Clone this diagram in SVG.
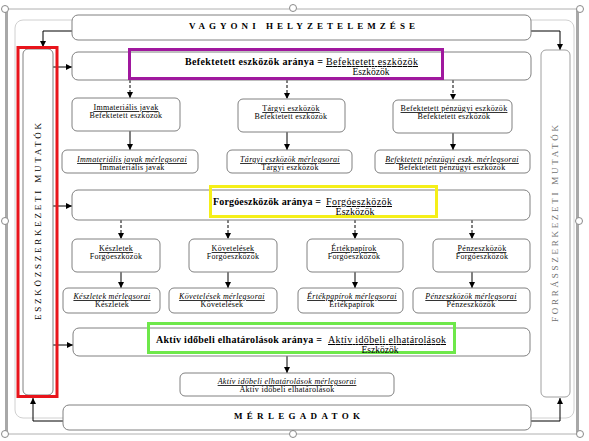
<svg xmlns="http://www.w3.org/2000/svg" width="589" height="441" viewBox="0 0 589 441">
<defs>
<marker id="ah" markerWidth="6" markerHeight="6" refX="6" refY="3" orient="auto" markerUnits="userSpaceOnUse"><path d="M0,0 L6,3 L0,6 z" fill="#000"/></marker>
<style>
.bx{fill:#fff;stroke:#808080;stroke-width:1}
.t{font-family:"Liberation Serif","Times New Roman",serif;fill:#000}
.s{font-size:8px;text-anchor:middle;letter-spacing:0.3px}
.u{text-decoration:underline}
.i{font-style:italic}
.b{font-weight:bold}
.r{font-size:10px}
.c{fill:none;stroke:#000;stroke-width:1}
.d{fill:none;stroke:#000;stroke-width:1;stroke-dasharray:3,2}
.h{fill:#fff;stroke:#8a8a8a;stroke-width:1}
</style>
</defs>
<rect width="589" height="441" fill="#fff"/>
<g id="frame">
<line x1="5" y1="9" x2="580" y2="9" stroke="#b0b0b0" stroke-width="1"/>
<line x1="5" y1="434" x2="580" y2="434" stroke="#b0b0b0" stroke-width="1"/>
<rect x="5" y="9" width="3" height="425" fill="#a8a8a8"/>
<rect x="576" y="9" width="3" height="425" fill="#a8a8a8"/>
<rect x="15" y="20" width="559" height="398" rx="8" fill="none" stroke="#d0d0d0" stroke-width="1"/>
<circle class="h" cx="5" cy="9" r="3.5"/><circle class="h" cx="293" cy="8" r="3.5"/><circle class="h" cx="580" cy="9" r="3.5"/>
<circle class="h" cx="5" cy="221" r="3.5"/><circle class="h" cx="579" cy="221" r="3.5"/>
<circle class="h" cx="5" cy="434" r="3.5"/><circle class="h" cx="293" cy="434" r="3.5"/><circle class="h" cx="580" cy="434" r="3.5"/>
</g>
<g id="connectors">
<path class="c" d="M72,31 H43 V47" marker-end="url(#ah)"/>
<path class="c" d="M531,31 H560 V50" marker-end="url(#ah)"/>
<path class="c" d="M63,421 H33 V398" marker-end="url(#ah)"/>
<path class="c" d="M531,421 H560 V398" marker-end="url(#ah)"/>
<path class="c" d="M53,67 H72" marker-end="url(#ah)"/>
<path class="c" d="M53,206 H72" marker-end="url(#ah)"/>
<path class="c" d="M53,345 H73" marker-end="url(#ah)"/>
<path class="d" d="M130,80 V98" marker-end="url(#ah)"/>
<path class="d" d="M287,80 V99" marker-end="url(#ah)"/>
<path class="d" d="M453,80 V100" marker-end="url(#ah)"/>
<path class="c" d="M130,131 V150" marker-end="url(#ah)"/>
<path class="c" d="M287,132 V150" marker-end="url(#ah)"/>
<path class="c" d="M453,133 V150" marker-end="url(#ah)"/>
<path class="d" d="M121,220 V239" marker-end="url(#ah)"/>
<path class="d" d="M228,220 V239" marker-end="url(#ah)"/>
<path class="d" d="M355,220 V239" marker-end="url(#ah)"/>
<path class="d" d="M472,220 V239" marker-end="url(#ah)"/>
<path class="c" d="M121,272 V288" marker-end="url(#ah)"/>
<path class="c" d="M228,272 V288" marker-end="url(#ah)"/>
<path class="c" d="M355,272 V288" marker-end="url(#ah)"/>
<path class="c" d="M472,272 V288" marker-end="url(#ah)"/>
<path class="c" d="M287,356 V373" marker-end="url(#ah)"/>
</g>
<g id="title">
<rect class="bx" x="72" y="15" width="459" height="25" rx="6"/>
<text class="t b" x="189" y="28.5" font-size="9" textLength="226" lengthAdjust="spacing">VAGYONI HELYZETELEMZÉSE</text>
</g>
<g id="eszkoz-mutatok">
<rect class="bx" x="23" y="49" width="30" height="346" rx="5"/>
<rect x="18" y="47.5" width="39" height="349" fill="none" stroke="#e8141b" stroke-width="3"/>
<text class="t" font-size="9" transform="translate(41,320) rotate(-90)" textLength="197" lengthAdjust="spacing">ESZKÖZSZERKEZETI MUTATÓK</text>
</g>
<g id="forras-mutatok">
<rect class="bx" x="541" y="50" width="29" height="347" rx="5" style="stroke:#a0a0a0"/>
<text class="t" font-size="9" style="fill:#707070" transform="translate(558,322) rotate(-90)" textLength="197" lengthAdjust="spacing">FORRÁSSZERKEZETI MUTATÓK</text>
</g>
<g id="befektetett-arany">
<rect class="bx" x="72" y="52" width="459" height="28" rx="6"/>
<rect x="129.5" y="49.5" width="313" height="29" fill="none" stroke="#a0189e" stroke-width="3"/>
<text class="t b r" x="185" y="65" textLength="138" lengthAdjust="spacing">Befektetett eszközök aránya =</text>
<text class="t r u" x="326" y="65" textLength="92" lengthAdjust="spacing">Befektetett eszközök</text>
<text class="t" x="371" y="75" font-size="9.5" text-anchor="middle">Eszközök</text>
</g>
<g id="immaterialis">
<rect class="bx" x="72" y="98" width="108" height="33" rx="5"/>
<text class="t s u" x="126" y="110">Immateriális javak</text>
<text class="t s" x="126" y="118">Befektetett eszközök</text>
</g>
<g id="targyi">
<rect class="bx" x="238" y="99" width="107" height="33" rx="5"/>
<text class="t s u" x="291" y="111">Tárgyi eszközök</text>
<text class="t s" x="291" y="119">Befektetett eszközök</text>
</g>
<g id="penzugyi">
<rect class="bx" x="393" y="100" width="119" height="33" rx="5"/>
<text class="t s u" x="454" y="111">Befektetett pénzügyi eszközök</text>
<text class="t s" x="454" y="119">Befektetett eszközök</text>
</g>
<g id="immaterialis-ms">
<rect class="bx" x="62" y="150" width="136" height="23" rx="5"/>
<text class="t s u i" x="132" y="162">Immateriális javak mérlegsorai</text>
<text class="t s" x="132" y="170">Immateriális javak</text>
</g>
<g id="targyi-ms">
<rect class="bx" x="227" y="150" width="125" height="23" rx="5"/>
<text class="t s u i" x="290" y="162">Tárgyi eszközök mérlegsorai</text>
<text class="t s" x="290" y="170">Tárgyi eszközök</text>
</g>
<g id="penzugyi-ms">
<rect class="bx" x="375" y="150" width="155" height="23" rx="5"/>
<text class="t s u i" x="452" y="162">Befektetett  pénzügyi eszk.  mérlegsorai</text>
<text class="t s" x="452" y="170">Befektetett pénzügyi eszközök</text>
</g>
<g id="forgo-arany">
<rect class="bx" x="72" y="190" width="458" height="30" rx="6"/>
<rect x="210.5" y="186.5" width="226" height="30" fill="none" stroke="#f5ef18" stroke-width="3"/>
<text class="t b r" x="213" y="205" textLength="108" lengthAdjust="spacing">Forgóeszközök aránya =</text>
<text class="t r u" x="326" y="205" textLength="66" lengthAdjust="spacing">Forgóeszközök</text>
<text class="t" x="355" y="214.5" font-size="10" text-anchor="middle">Eszközök</text>
</g>
<g id="keszletek">
<rect class="bx" x="72" y="239" width="88" height="33" rx="5"/>
<text class="t s u" x="116" y="251">Készletek</text>
<text class="t s" x="116" y="259">Forgóeszközök</text>
</g>
<g id="kovetelesek">
<rect class="bx" x="189" y="239" width="88" height="33" rx="5"/>
<text class="t s u" x="233" y="251">Követelések</text>
<text class="t s" x="233" y="259">Forgóeszközök</text>
</g>
<g id="ertekpapirok">
<rect class="bx" x="307" y="239" width="96" height="33" rx="5"/>
<text class="t s u" x="354" y="251">Értékpapírok</text>
<text class="t s" x="354" y="259">Forgóeszközök</text>
</g>
<g id="penzeszkozok">
<rect class="bx" x="433" y="239" width="97" height="33" rx="5"/>
<text class="t s u" x="482" y="251">Pénzeszközök</text>
<text class="t s" x="482" y="259">Forgóeszközök</text>
</g>
<g id="keszletek-ms">
<rect class="bx" x="63" y="288" width="97" height="25" rx="5"/>
<text class="t s u i" x="112" y="299">Készletek mérlegsorai</text>
<text class="t s" x="112" y="307">Készletek</text>
</g>
<g id="kovetelesek-ms">
<rect class="bx" x="169" y="288" width="108" height="25" rx="5"/>
<text class="t s u i" x="222" y="299">Követelések mérlegsorai</text>
<text class="t s" x="222" y="307">Követelések</text>
</g>
<g id="ertekpapirok-ms">
<rect class="bx" x="298" y="288" width="105" height="25" rx="5"/>
<text class="t s u i" x="352" y="299">Értékpapírok mérlegsorai</text>
<text class="t s" x="352" y="307">Értékpapírok</text>
</g>
<g id="penzeszkozok-ms">
<rect class="bx" x="413" y="288" width="117" height="25" rx="5"/>
<text class="t s u i" x="471" y="299">Pénzeszközök  mérlegsorai</text>
<text class="t s" x="471" y="307">Pénzeszközök</text>
</g>
<g id="aktiv-arany">
<rect class="bx" x="73" y="328" width="457" height="28" rx="6"/>
<rect x="148.5" y="323.5" width="306" height="29" fill="none" stroke="#6ee84a" stroke-width="3"/>
<text class="t b r" x="156" y="343" textLength="166" lengthAdjust="spacing">Aktív időbeli elhatárolások aránya =</text>
<text class="t r u" x="328" y="343" textLength="118" lengthAdjust="spacing">Aktív időbeli elhatárolások</text>
<text class="t" x="380" y="353" font-size="9.5" text-anchor="middle">Eszközök</text>
</g>
<g id="aktiv-ms">
<rect class="bx" x="180" y="373" width="214" height="23" rx="5"/>
<text class="t s u i" x="287" y="384">Aktív időbeli elhatárolások  mérlegsorai</text>
<text class="t s" x="287" y="392">Aktív időbeli elhatárolások</text>
</g>
<g id="merlegadatok">
<rect class="bx" x="63" y="405" width="468" height="25" rx="6"/>
<text class="t b" x="234" y="418.5" font-size="9" textLength="126" lengthAdjust="spacing">MÉRLEGADATOK</text>
</g>
</svg>
